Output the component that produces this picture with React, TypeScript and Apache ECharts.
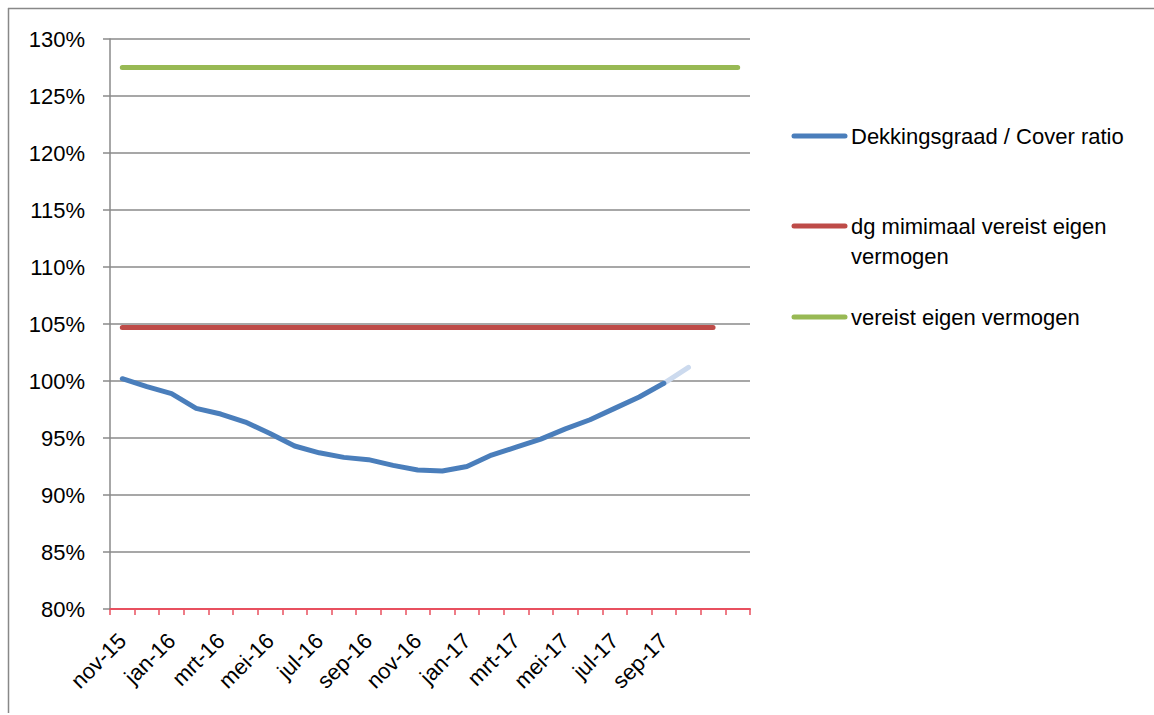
import React, { useEffect, useRef } from "react";
import * as echarts from "echarts";

const months = [
  "nov-15", "dec-15", "jan-16", "feb-16", "mrt-16", "apr-16", "mei-16", "jun-16",
  "jul-16", "aug-16", "sep-16", "okt-16", "nov-16", "dec-16", "jan-17", "feb-17",
  "mrt-17", "apr-17", "mei-17", "jun-17", "jul-17", "aug-17", "sep-17", "okt-17",
  "nov-17", "dec-17",
];

// tick labels shown on the axis (Excel showed every other month up to sep-17)
const shownLabels = [
  "nov-15", "jan-16", "mrt-16", "mei-16", "jul-16", "sep-16",
  "nov-16", "jan-17", "mrt-17", "mei-17", "jul-17", "sep-17",
];

const coverRatio = [
  100.2, 99.5, 98.9, 97.6, 97.1, 96.4, 95.4, 94.3, 93.7, 93.3, 93.1, 92.6,
  92.2, 92.1, 92.5, 93.5, 94.2, 94.9, 95.8, 96.6, 97.6, 98.6, 99.8,
];

const coverRatioProjection = [
  null, null, null, null, null, null, null, null, null, null, null, null,
  null, null, null, null, null, null, null, null, null, null, 99.8, 101.2,
];

const minRequired = [
  104.7, 104.7, 104.7, 104.7, 104.7, 104.7, 104.7, 104.7, 104.7, 104.7,
  104.7, 104.7, 104.7, 104.7, 104.7, 104.7, 104.7, 104.7, 104.7, 104.7,
  104.7, 104.7, 104.7, 104.7, 104.7,
];

const required = [
  127.5, 127.5, 127.5, 127.5, 127.5, 127.5, 127.5, 127.5, 127.5, 127.5,
  127.5, 127.5, 127.5, 127.5, 127.5, 127.5, 127.5, 127.5, 127.5, 127.5,
  127.5, 127.5, 127.5, 127.5, 127.5, 127.5,
];

const legendItems = [
  { name: "Dekkingsgraad / Cover ratio", color: "#4a7ebb" },
  { name: "dg mimimaal vereist eigen\nvermogen", color: "#be4b48" },
  { name: "vereist eigen vermogen", color: "#98b954" },
];

const FONT = "'Liberation Sans', Arial, sans-serif";

export default function App() {
  const ref = useRef<HTMLDivElement>(null);
  useEffect(() => {
    if (!ref.current) return;
    const chart = echarts.init(ref.current, null, { renderer: "svg" });
    const legendY = [136, 226, 317];
    const graphic: any[] = [
      { type: "line", shape: { x1: 8, y1: 8.5, x2: 1154, y2: 8.5 }, style: { stroke: "#888", lineWidth: 1.5 } },
      { type: "line", shape: { x1: 8.5, y1: 8, x2: 8.5, y2: 713 }, style: { stroke: "#888", lineWidth: 1.5 } },
    ];
    legendItems.forEach((it, i) => {
      graphic.push({
        type: "line",
        shape: { x1: 794, y1: legendY[i], x2: 845, y2: legendY[i] },
        style: { stroke: it.color, lineWidth: 5, lineCap: "round" },
      });
      graphic.push({
        type: "text",
        x: 851,
        y: legendY[i] - 15,
        style: {
          text: it.name,
          font: `22px ${FONT}`,
          fill: "#000",
          lineHeight: 30,
          verticalAlign: "top",
          align: "left",
        },
      });
    });
    chart.setOption({
      animation: false,
      backgroundColor: "#fff",
      grid: { left: 110, right: 404, top: 39, bottom: 106 },
      xAxis: {
        type: "category",
        data: months,
        boundaryGap: true,
        axisLine: { show: true, lineStyle: { color: "#e8505f", width: 2 } },
        axisTick: { show: true, interval: 0, length: 6, lineStyle: { color: "#e8505f", width: 1.5 } },
        axisLabel: {
          interval: (_i: number, v: string) => shownLabels.includes(v),
          rotate: 45,
          fontSize: 22,
          fontFamily: FONT,
          color: "#000",
          margin: 28,
        },
        splitLine: { show: false },
      },
      yAxis: {
        type: "value",
        min: 80,
        max: 130,
        interval: 5,
        axisLine: { show: true, lineStyle: { color: "#8a8a8a", width: 1.5 } },
        axisTick: { show: true, length: 7, lineStyle: { color: "#8a8a8a", width: 1.5 } },
        axisLabel: {
          formatter: "{value}%",
          fontSize: 22,
          fontFamily: FONT,
          color: "#000",
          margin: 25,
        },
        splitLine: { show: true, lineStyle: { color: "#8a8a8a", width: 1.5 } },
      },
      series: [
        {
          name: "vereist eigen vermogen",
          type: "line",
          data: required,
          symbol: "none",
          lineStyle: { color: "#98b954", width: 5, cap: "round" },
          z: 2,
        },
        {
          name: "dg mimimaal vereist eigen vermogen",
          type: "line",
          data: minRequired,
          symbol: "none",
          lineStyle: { color: "#be4b48", width: 5, cap: "round" },
          z: 3,
        },
        {
          name: "Dekkingsgraad projectie",
          type: "line",
          data: coverRatioProjection,
          symbol: "none",
          lineStyle: { color: "#ccdaee", width: 5, cap: "round" },
          z: 3,
        },
        {
          name: "Dekkingsgraad / Cover ratio",
          type: "line",
          data: coverRatio,
          symbol: "none",
          lineStyle: { color: "#4a7ebb", width: 5, cap: "round", join: "round" },
          z: 4,
        },
      ],
      graphic,
    });
    return () => chart.dispose();
  }, []);
  return (
    <div
      ref={ref}
      style={{ position: "fixed", left: 0, top: 0, width: 1154, height: 715, background: "#fff" }}
    />
  );
}
